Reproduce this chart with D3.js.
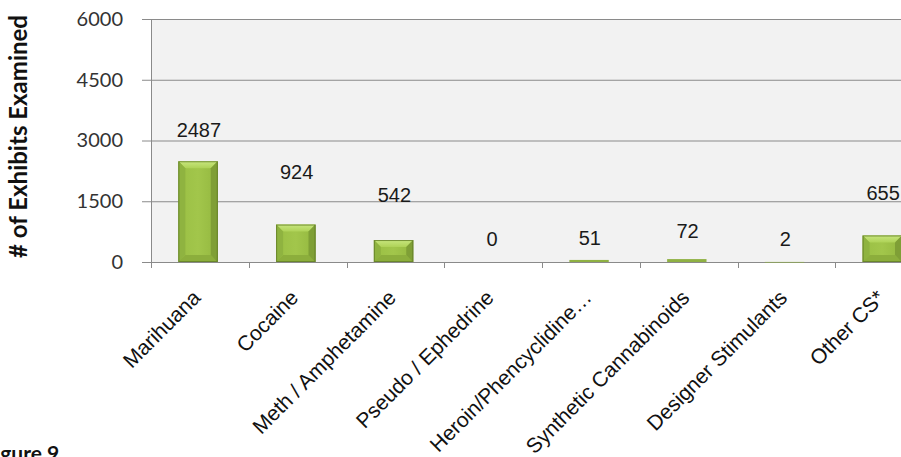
<!DOCTYPE html>
<html>
<head>
<meta charset="utf-8">
<script src="https://cdn.jsdelivr.net/npm/d3@7"></script>
<style>
  html, body { margin: 0; padding: 0; background: #fff; overflow: hidden; }
  svg { display: block; }
</style>
</head>
<body>
<svg id="chart" width="901" height="457"></svg>
<script>
// Exhibits examined by drug category
const categories = [
  "Marihuana", "Cocaine", "Meth / Amphetamine", "Pseudo / Ephedrine",
  "Heroin/Phencyclidine\u2026", "Synthetic Cannabinoids", "Designer Stimulants", "Other CS*"
];
const exhibits = [2487, 924, 542, 0, 51, 72, 2, 655];
const yTicks = [0, 1500, 3000, 4500, 6000];

// layout
const W = 901, H = 457;
const plot = { left: 151, top: 19, bottom: 262, right: 933 };
// how far each value label sits above its bar top (px)
const labelLift = [31, 53, 45, 23, 22, 28, 23, 43];

const svg = d3.select("#chart");
const defs = svg.append("defs");

const x = d3.scaleBand().domain(categories).range([plot.left, plot.right]).padding(0);
const y = d3.scaleLinear().domain([0, 6000]).range([plot.bottom, plot.top]);

// plot background
svg.append("rect")
  .attr("x", plot.left).attr("y", plot.top)
  .attr("width", plot.right - plot.left).attr("height", plot.bottom - plot.top)
  .attr("fill", "#f2f2f2");

// horizontal gridlines with outer ticks on the left
const yAxis = d3.axisLeft(y).tickValues(yTicks).tickFormat(d3.format("d")).tickSize(9).tickPadding(19);
const gy = svg.append("g").attr("transform", `translate(${plot.left},0)`).call(yAxis);
gy.select(".domain").remove();
gy.selectAll(".tick line").attr("stroke", "#8a8a8a");
gy.selectAll(".tick").append("line")
  .attr("x1", 0).attr("x2", plot.right - plot.left)
  .attr("stroke", "#8a8a8a").attr("stroke-width", 1);
gy.selectAll(".tick text")
  .attr("font-family", "Lato, 'Open Sans', sans-serif")
  .attr("font-size", 20).attr("fill", "#333");

// vertical axis line
svg.append("line")
  .attr("x1", plot.left + 0.5).attr("x2", plot.left + 0.5)
  .attr("y1", plot.top).attr("y2", plot.bottom + 6)
  .attr("stroke", "#8a8a8a");

// category boundary ticks along the bottom
const bounds = categories.map(c => x(c)).concat([plot.right]);
svg.append("g").selectAll("line").data(bounds).join("line")
  .attr("x1", d => Math.round(d) + 0.5).attr("x2", d => Math.round(d) + 0.5)
  .attr("y1", plot.bottom).attr("y2", plot.bottom + 6)
  .attr("stroke", "#8a8a8a");

// bevelled green bars
const gMain = defs.append("linearGradient").attr("id", "barMain").attr("x1", 0).attr("x2", 1).attr("y1", 0).attr("y2", 0);
gMain.append("stop").attr("offset", "0%").attr("stop-color", "#7f9f33");
gMain.append("stop").attr("offset", "12%").attr("stop-color", "#9cc146");
gMain.append("stop").attr("offset", "50%").attr("stop-color", "#a2c64b");
gMain.append("stop").attr("offset", "88%").attr("stop-color", "#97bb42");
gMain.append("stop").attr("offset", "100%").attr("stop-color", "#6f8d2b");

const gTop = defs.append("linearGradient").attr("id", "barTop").attr("x1", 0).attr("x2", 0).attr("y1", 0).attr("y2", 1);
gTop.append("stop").attr("offset", "0%").attr("stop-color", "#c8e67e");
gTop.append("stop").attr("offset", "100%").attr("stop-color", "#aed257");

const barW = x.bandwidth() * 0.403;
const barOff = x.bandwidth() * 0.28;

const bars = svg.append("g").selectAll("g").data(categories).join("g");
bars.each(function (c, i) {
  const g = d3.select(this);
  const v = exhibits[i];
  const x0 = x(c) + barOff, x1 = x0 + barW;
  const yTop = y(v), yBot = y(0);
  const h = yBot - yTop;
  if (v <= 0) return;
  const b = Math.min(7, h / 2, barW / 2);
  g.append("rect")
    .attr("x", x0).attr("y", yTop).attr("width", barW).attr("height", Math.max(h, 0.6))
    .attr("fill", "url(#barMain)");
  if (h > 3) {
    // top bevel
    g.append("polygon")
      .attr("points", [[x0, yTop], [x1, yTop], [x1 - b, yTop + b], [x0 + b, yTop + b]].map(p => p.join(",")).join(" "))
      .attr("fill", "url(#barTop)");
    // bottom bevel
    g.append("polygon")
      .attr("points", [[x0, yBot], [x1, yBot], [x1 - b, yBot - b], [x0 + b, yBot - b]].map(p => p.join(",")).join(" "))
      .attr("fill", "#8cae3c");
    // side bevels
    g.append("polygon")
      .attr("points", [[x0, yTop], [x0 + b, yTop + b], [x0 + b, yBot - b], [x0, yBot]].map(p => p.join(",")).join(" "))
      .attr("fill", "#8fb340");
    g.append("polygon")
      .attr("points", [[x1, yTop], [x1 - b, yTop + b], [x1 - b, yBot - b], [x1, yBot]].map(p => p.join(",")).join(" "))
      .attr("fill", "#7f9f36");
    g.append("rect")
      .attr("x", x0 + 0.5).attr("y", yTop + 0.5).attr("width", barW - 1).attr("height", h - 1)
      .attr("fill", "none").attr("stroke", "#627d26").attr("stroke-opacity", 0.8);
  } else {
    g.select("rect").attr("fill", "#8fb143");
  }
});

// value labels
svg.append("g").selectAll("text").data(categories).join("text")
  .attr("x", c => x(c) + x.bandwidth() / 2 - 1)
  .attr("y", (c, i) => y(exhibits[i]) - labelLift[i])
  .attr("dy", "0.36em")
  .attr("text-anchor", "middle")
  .attr("font-family", "'Liberation Sans', Arial, sans-serif")
  .attr("font-size", 20)
  .attr("fill", "#1a1a1a")
  .text((c, i) => exhibits[i]);

// rotated category labels
svg.append("g").selectAll("text").data(categories).join("text")
  .attr("transform", c => `translate(${x(c) + x.bandwidth() / 2 + 2},${plot.bottom + 37}) rotate(-45)`)
  .attr("text-anchor", "end")
  .attr("font-family", "'Liberation Sans', Arial, sans-serif")
  .attr("font-size", 21)
  .attr("fill", "#111")
  .text(c => c);

// y-axis title
svg.append("text")
  .attr("transform", `translate(27,${(plot.top + plot.bottom) / 2 - 4}) rotate(-90)`)
  .attr("text-anchor", "middle")
  .attr("font-family", "Lato, 'Open Sans', sans-serif")
  .attr("font-weight", "bold")
  .attr("font-size", 24)
  .attr("fill", "#111")
  .text("# of Exhibits Examined");

// figure caption
svg.append("text")
  .attr("x", -17).attr("y", 461)
  .attr("font-family", "Lato, 'Open Sans', sans-serif")
  .attr("font-weight", "bold")
  .attr("font-size", 21)
  .attr("fill", "#111")
  .text("Figure 9");
</script>
</body>
</html>
